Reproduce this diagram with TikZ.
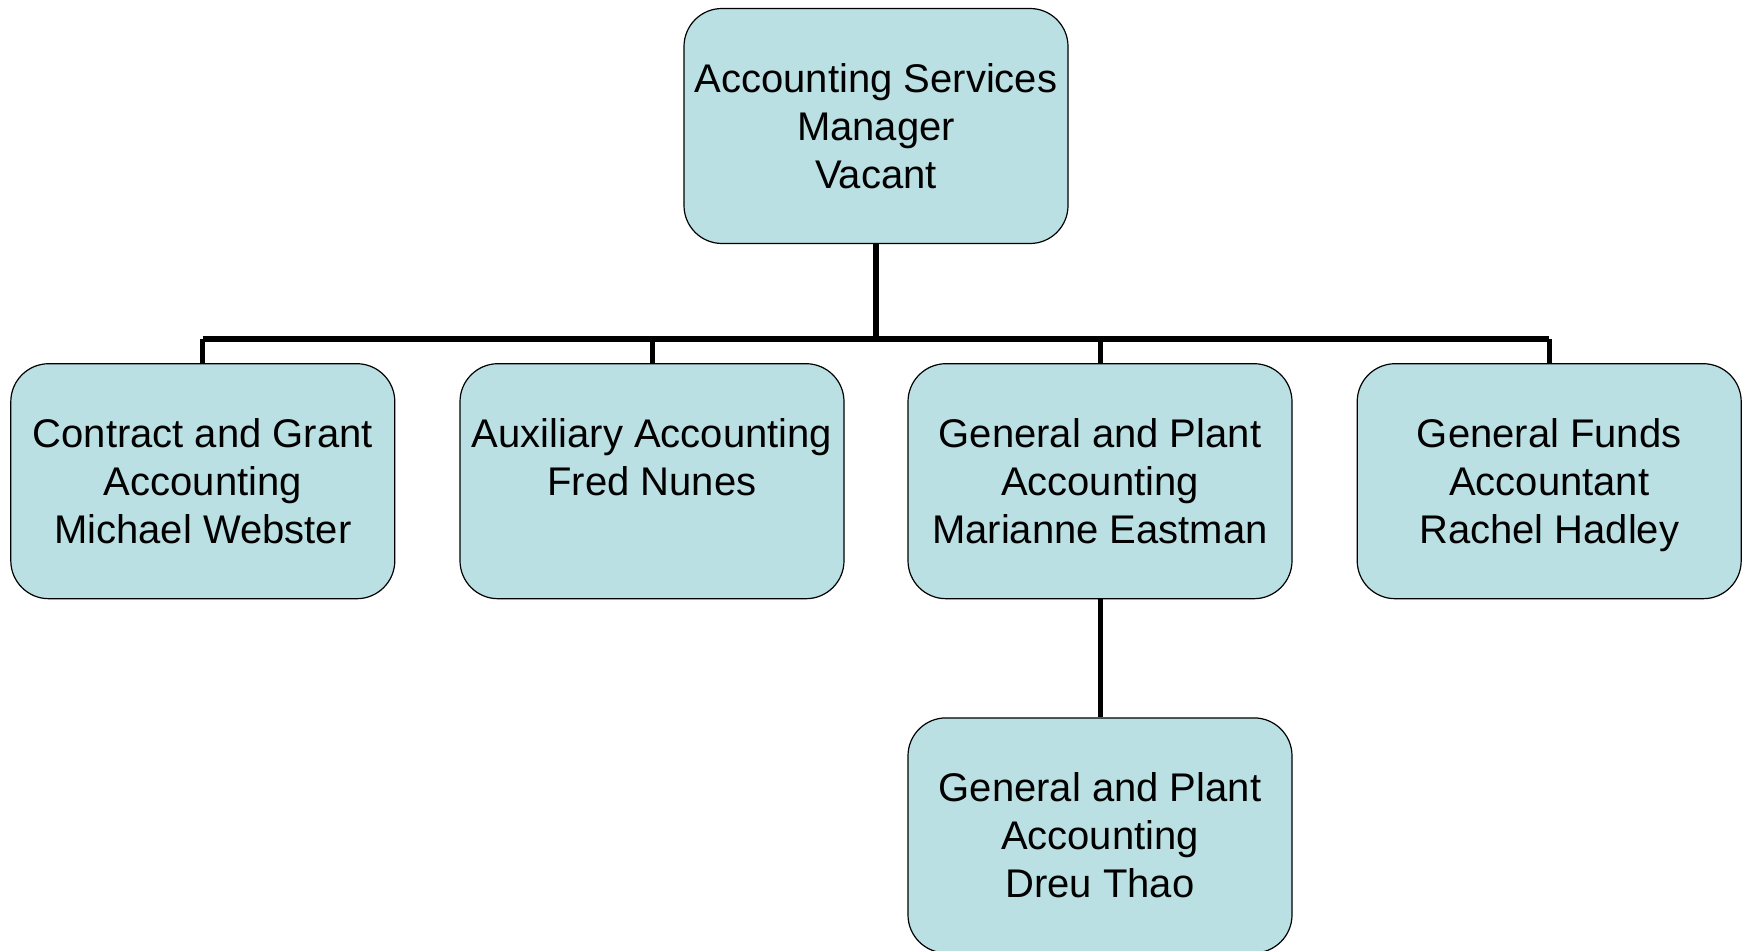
\documentclass[tikz,border=0pt]{standalone}
\usepackage{fontspec}
\setmainfont{Liberation Sans}
\usepackage{tikz}
\usetikzlibrary{positioning}
\definecolor{unitfill}{RGB}{186,224,227}
\tikzstyle{unit} = [rectangle, rounded corners=19pt, minimum width=192pt, minimum height=117.5pt, inner sep=0pt, align=center, text depth=0pt, font=\fontsize{20pt}{24pt}\selectfont, draw=black, line width=0.6pt, fill=unitfill]
\tikzstyle{link} = [line width=3pt]
\tikzstyle{drop} = [line width=2.5pt]
\begin{document}
\begin{tikzpicture}
	\useasboundingbox (0,0) rectangle (875pt,-475.5pt);
	\node (asm) [unit] at (438pt,-63pt) {Accounting Services\\Manager\\Vacant};
	\node (aux) [unit, below=59.5pt of asm, xshift=-112pt] {Auxiliary Accounting\\Fred Nunes\\\mbox{}};
	\node (gpa) [unit, below=59.5pt of asm, xshift=112pt] {General and Plant\\Accounting\\Marianne Eastman};
	\node (cga) [unit, left=32pt of aux] {Contract and Grant\\Accounting\\Michael Webster};
	\node (gfa) [unit, right=32pt of gpa] {General Funds\\Accountant\\Rachel Hadley};
	\node (gpt) [unit, below=59pt of gpa] {General and Plant\\Accounting\\Dreu Thao};
	\coordinate (hub) at ([yshift=-47.5pt]asm.south);
	\draw [link] (asm.south) -- (hub);
	\draw [link] (hub -| cga.north) -- (hub -| gfa.north);
	\draw [drop] (hub -| cga.north) -- (cga.north);
	\draw [drop] (hub -| aux.north) -- (aux.north);
	\draw [drop] (hub -| gpa.north) -- (gpa.north);
	\draw [drop] (hub -| gfa.north) -- (gfa.north);
	\draw [drop] (gpa.south) -- (gpt.north);
\end{tikzpicture}
\end{document}
